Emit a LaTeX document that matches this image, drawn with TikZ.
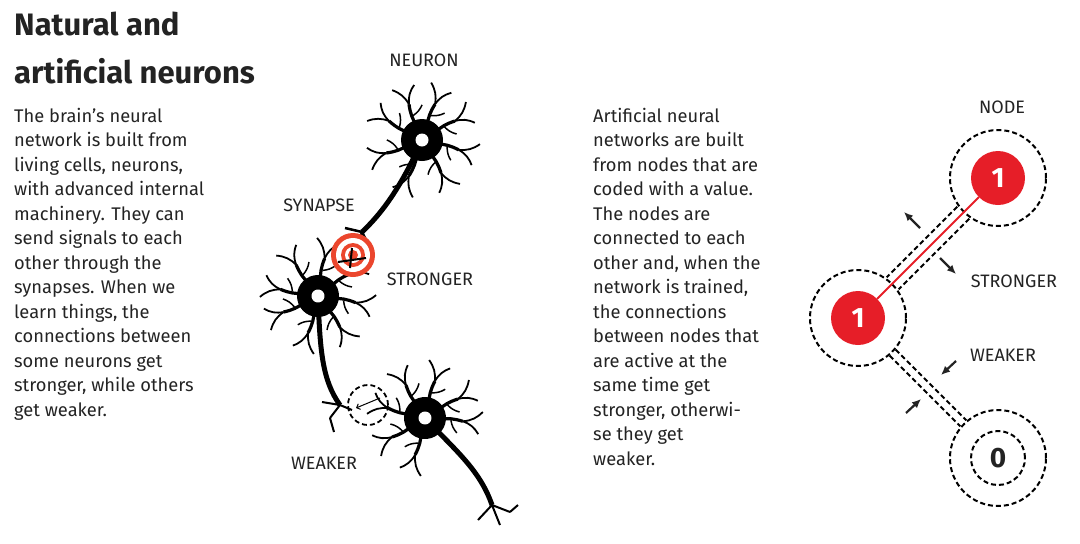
\documentclass[tikz,border=0pt]{standalone}
\usepackage{fontspec}
\setmainfont{Fira Sans}
\usepackage{tikz}
\usetikzlibrary{calc}
\usetikzlibrary{arrows.meta}
\definecolor{nodered}{RGB}{230,30,40}
\definecolor{ringred}{RGB}{235,70,45}
\definecolor{txt}{RGB}{35,35,35}

% one neuron: soma with dendrites
\newcommand\nerve[3]{% position, rotation, list of angles
  \begin{scope}[shift={#1},rotate=#2]
    \foreach \ang in {#3} {
      \draw[line width=3.2pt] (\ang:14) to[bend left=12] (\ang:38) coordinate (tip);
      \draw[line width=1.8pt] (tip) to[bend left=20] ++(\ang+35:20);
      \draw[line width=1.8pt] (tip) to[bend right=20] ++(\ang-30:22);
      \draw[line width=1.5pt] ($(\ang:26)$) to[bend right=15] ++(\ang+60:14);
    }
    \fill (0,0) circle (21);
    \fill[white] (0,0) circle (6.5);
  \end{scope}}

\begin{document}
\begin{tikzpicture}[x=1pt,y=-1pt,
  body/.style={font=\fontsize{18.3}{24.5}\selectfont,text=txt,align=left,anchor=north west,inner sep=0},
  lbl/.style={font=\fontsize{18}{20}\selectfont,text=txt,inner sep=0},
  ring/.style={draw,dashed,dash pattern=on 5pt off 3pt,line width=2pt,circle},
  redn/.style={circle,fill=nodered,minimum size=54,inner sep=0,text=white,font=\fontsize{28}{30}\selectfont\bfseries},
  push/.style={-{Latex[length=9pt,width=8pt]},line width=2.2pt,txt}]
  \useasboundingbox (0,0) rectangle (1080,544);

  % Title and texts
  \node[body,font=\fontsize{31}{48}\selectfont\bfseries] (title) at (14,12) {Natural and\\artificial neurons};
  \node[body] (left) at (14,108) {The brain’s neural\\network is built from\\living cells, neurons,\\with advanced internal\\machinery. They can\\send signals to each\\other through the\\synapses. When we\\learn things, the\\connections between\\some neurons get\\stronger, while others\\get weaker.};
  \node[body] (mid) at (593,108) {Artificial neural\\networks are built\\from nodes that are\\coded with a value.\\The nodes are\\connected to each\\other and, when the\\network is trained,\\the connections\\between nodes that\\are active at the\\same time get\\stronger, otherwi-\\se they get\\weaker.};

  % Axons
  \draw[line width=5pt] (422,140) .. controls (400,190) and (380,215) .. (362,232);
  \draw[line width=2.5pt] (362,232) -- (345,228) (362,232) -- (372,252) (362,232) -- (355,255);
  \draw[line width=5pt] (318,296) .. controls (320,350) and (322,380) .. (340,405);
  \draw[line width=2pt] (340,405) -- (352,410) (340,405) -- (330,418) (340,405) -- (322,402) (330,418) -- (334,432);
  \draw[line width=5pt] (425,418) .. controls (455,450) and (480,470) .. (492,505);
  \draw[line width=2pt] (492,505) -- (510,512) (492,505) -- (478,520) (492,505) -- (500,525) (510,512) -- (518,505);

  % Neurons
  \nerve{(422,140)}{0}{-150,-110,-70,-30,15,60,110,160}
  \nerve{(318,296)}{10}{-160,-115,-70,-25,20,65,115,165}
  \nerve{(425,418)}{-5}{-170,-125,-80,-35,0,100,145}

  % Synapse marks
  \foreach \r/\c in {22/ringred,17/white,12/ringred,8/white,5/ringred}
    \fill[\c] (353,255) circle (\r);
  \draw[line width=2pt] (338,262) -- (366,258) (352,248) -- (350,268);
  \node[ring,minimum size=40,inner sep=0,line width=1.8pt] (weak) at (368,405) {};
  \draw[line width=1pt,-{Straight Barb[length=3pt]}] (380,398) -- (356,408);

  \node[lbl] (neuronlbl) at (424,60) {NEURON};
  \node[lbl] (synlbl) at (319,205) {SYNAPSE};
  \node[lbl] (strlbl) at (430,279) {STRONGER};
  \node[lbl] (weaklbl) at (324,463) {WEAKER};

  % Artificial network
  \node[redn] (a) at (998,178) {1};
  \node[redn] (b) at (858,318) {1};
  \node[circle,minimum size=54,inner sep=0,text=txt,font=\fontsize{28}{30}\selectfont\bfseries] (c) at (998,458) {0};
  \node[ring,minimum size=96] (ao) at (a) {};
  \node[ring,minimum size=96] (bo) at (b) {};
  \node[ring,minimum size=96] (co) at (c) {};
  \node[ring,minimum size=54] (ci) at (c) {};
  \draw[nodered,line width=2pt] (a) -- (b);
  \draw[ring] ($(ao.225)+(-6,-6)$) -- ($(bo.45)+(-6,-6)$);
  \draw[ring] ($(ao.225)+(6,6)$) -- ($(bo.45)+(6,6)$);
  \draw[ring,line width=1.8pt] ($(bo.-45)+(3,-3)$) -- ($(co.135)+(3,-3)$);
  \draw[ring,line width=1.8pt] ($(bo.-45)+(-3,3)$) -- ($(co.135)+(-3,3)$);

  \coordinate (s1) at (920,228); \coordinate (s1e) at (904,212);
  \coordinate (s2) at (940,258); \coordinate (s2e) at (956,274);
  \coordinate (w1) at (956,361); \coordinate (w1e) at (941,375);
  \coordinate (w2) at (906,413); \coordinate (w2e) at (921,399);
  \draw[push] (s1) -- (s1e);
  \draw[push] (s2) -- (s2e);
  \draw[push] (w1) -- (w1e);
  \draw[push] (w2) -- (w2e);

  \node[lbl] (nodelbl) at (1002,107) {NODE};
  \node[lbl] (str2) at (1014,281) {STRONGER};
  \node[lbl] (weak2) at (1003,355) {WEAKER};
\end{tikzpicture}
\end{document}
